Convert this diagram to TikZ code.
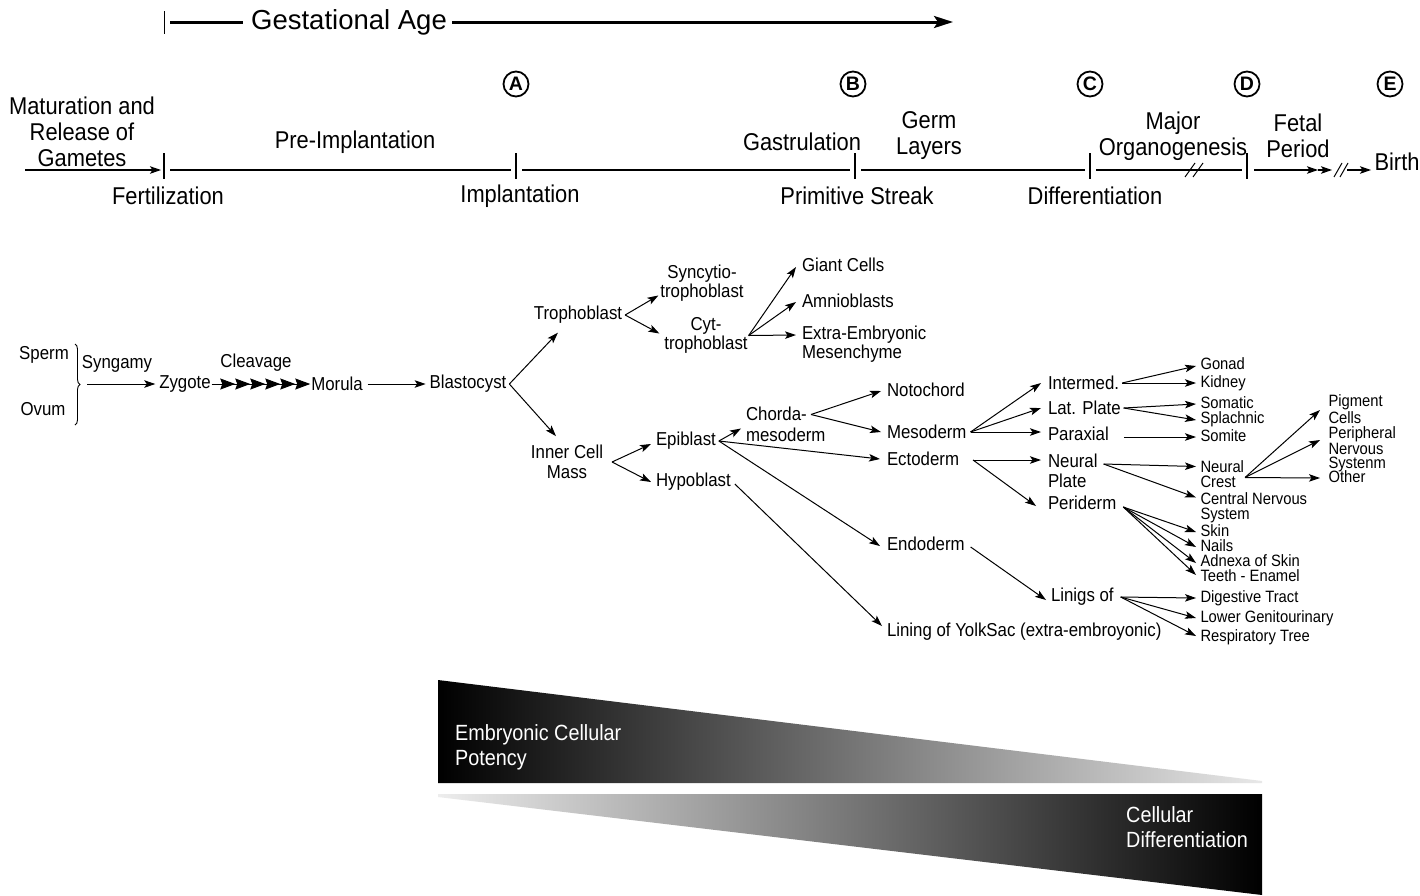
\documentclass[tikz,border=0pt]{standalone}
\usepackage{fontspec}
\setmainfont{Liberation Sans}[FakeStretch=0.9]
\newfontfamily\widefont{Liberation Sans}
\usetikzlibrary{arrows.meta,calc,decorations.pathreplacing}
\begin{document}
\begin{tikzpicture}[x=1pt,y=-1pt,
  tl/.style={font=\fontsize{24.3}{26}\selectfont, inner sep=0pt, align=center},
  tr/.style={font=\fontsize{18.7}{20}\selectfont, inner sep=1pt, outer sep=0pt, align=left},
  ts/.style={font=\fontsize{16.4}{14.5}\selectfont, inner sep=0.5pt, outer sep=0pt, align=left},
  tsone/.style={ts, text height=11pt, text depth=2.5pt},
  conn/.style={line width=1pt, -{Stealth[length=11pt,width=7.5pt,inset=2.5pt]}},
  tickline/.style={line width=1.2pt},
  circ/.style={circle, draw, line width=1.8pt, inner sep=0pt, minimum size=25pt, font=\widefont\fontsize{19.5}{19.5}\selectfont\bfseries},
  wtxt/.style={text=white, font=\fontsize{22}{25}\selectfont, align=left, anchor=west, inner sep=0pt},
  tlarrow/.style={tickline, -{Stealth[length=11pt,width=7.5pt,inset=2.5pt]}},
  chaintip/.tip={Stealth[length=15pt,width=11pt,inset=2pt,sep=0pt]}
]
\useasboundingbox (0,0) rectangle (1420,895);
\fill[white] (0,0) rectangle (1420,895);

% ---------- Gestational age ----------
\draw[line width=1pt] (164,11) -- (164,34);
\node[font=\widefont\fontsize{27.5}{27.5}\selectfont, inner sep=0pt] (ga) at (349,22) {Gestational Age};
\coordinate (g0) at (170,22);
\coordinate (gend) at (953,22);
\draw[line width=3pt] (g0) -- ($(ga.west)+(-8,0)$);
\draw[line width=3pt, -{Stealth[length=19pt,width=12pt,inset=4pt]}] ($(ga.east)+(5,0)$) -- (gend);

% ---------- circled letters ----------
\node[circ] (cA) at (516,84) {A};
\node[circ] (cB) at (853,84) {B};
\node[circ] (cC) at (1090,84) {C};
\node[circ] (cD) at (1247,84) {D};
\node[circ] (cE) at (1390,84) {E};

% ---------- timeline ----------
\coordinate (l0) at (25,170);
\coordinate (tA) at (164,170);
\coordinate (tB) at (516,170);
\coordinate (tC) at (855,170);
\coordinate (tD) at (1090,170);
\coordinate (tE) at (1247,170);
\foreach \t in {tA,tB,tC,tD,tE}
  \draw[tickline] ($(\t)+(0,-17)$) -- ($(\t)+(0,9)$);
\draw[tlarrow] (l0) -- ($(tA)+(-3,0)$);
\draw[tickline] ($(tA)+(6,0)$) -- ($(tB)+(-5,0)$);
\draw[tickline] ($(tB)+(6,0)$) -- ($(tC)+(-5,0)$);
\draw[tickline] ($(tC)+(6,0)$) -- ($(tD)+(-5,0)$);
\draw[tickline] ($(tD)+(6,0)$) -- ($(tE)+(-5,0)$);
\draw[line width=1pt] (1185,177) -- (1195,163);
\draw[line width=1pt] (1193,177) -- (1203,163);
\coordinate (b0) at (1318,170);
\coordinate (b1) at (1332,170);
\coordinate (b2) at (1347,170);
\coordinate (b3) at (1371,170);
\draw[tlarrow] ($(tE)+(7,0)$) -- (b0);
\draw[tlarrow] (b0) -- (b1);
\draw[line width=1pt] (1334,177) -- (1342,163);
\draw[line width=1pt] (1340,177) -- (1348,163);
\draw[tlarrow] (b2) -- (b3);

\node[tl] (mat) at (82,132) {Maturation and\\Release of\\Gametes};
\node[tl] (fert) at (168,196) {Fertilization};
\node[tl] (pre) at (355,142) {Pre-Implantation};
\node[tl] (impl) at (520,196) {Implantation};
\node[tl] (gast) at (802,142) {Gastrulation};
\node[tl] (germ) at (929,136) {Germ\\Layers};
\node[tl] (prim) at (857,196) {Primitive Streak};
\node[tl] (diff) at (1095,196) {Differentiation};
\node[tl] (major) at (1173,136) {Major\\Organogenesis};
\node[tl] (fetal) at (1298,136) {Fetal\\Period};
\node[tl] (birth) at (1397,162) {Birth};

% ---------- tree nodes ----------
\node[tr] (sperm) at (44,355) {Sperm};
\node[tr] (ovum) at (43,409) {Ovum};
\draw[line width=0.9pt, decorate, decoration={brace,amplitude=5pt}] (75,344) -- (75,425);
\coordinate (bt) at (87,384);
\node[tr] (syng) at (117,364) {Syngamy};
\node[tr] (zyg) at (185,384) {Zygote};
\node[tr] (cleav) at (256,363) {Cleavage};
\node[tr] (mor) at (337,384) {Morula};
\node[tr] (bla) at (468,384) {Blastocyst};
\node[tr] (tro) at (578,315) {Trophoblast};
\node[tr, align=center] (icm) at (567,462) {Inner Cell\\Mass};
\node[tr, align=center, font=\fontsize{18.7}{19}\selectfont] (syn) at (702,283.5) {Syncytio-\\trophoblast};
\node[tr, align=center, font=\fontsize{18.7}{19}\selectfont] (cyt) at (706,335.5) {Cyt-\\trophoblast};
\node[tr, anchor=west] (giant) at (801,265) {Giant Cells};
\node[tr, anchor=west] (amnio) at (801,301) {Amnioblasts};
\node[tr, anchor=west, font=\fontsize{18.7}{19}\selectfont] (extra) at (801,344.5) {Extra-Embryonic\\Mesenchyme};
\node[tr, anchor=west] (epi) at (655,441) {Epiblast};
\node[tr, anchor=west] (hypo) at (655,482) {Hypoblast};
\node[tr, anchor=west, font=\fontsize{18.7}{21}\selectfont] (chorda) at (745,424.5) {Chorda-\\mesoderm};
\node[tr, anchor=west] (noto) at (886,390) {Notochord};
\node[tr, anchor=west] (meso) at (886,432) {Mesoderm};
\node[tr, anchor=west] (ecto) at (886,459) {Ectoderm};
\node[tr, anchor=west] (endo) at (886,544) {Endoderm};
\node[tr, anchor=west] (lining) at (886,632) {Lining of YolkSac (extra-embroyonic)};
\node[tr, anchor=west] (inter) at (1047,383) {Intermed.};
\node[tr, anchor=west] (lat) at (1047,408) {Lat. Plate};
\node[tr, anchor=west] (parax) at (1047,434) {Paraxial};
\node[tr, anchor=west] (neural) at (1047,471) {Neural\\Plate};
\node[tr, anchor=west] (peri) at (1047,503) {Periderm};
\node[tr, anchor=west] (linigs) at (1050,597) {Linigs of};
\node[tsone, anchor=west] (gonad) at (1200,365) {Gonad};
\node[tsone, anchor=west] (kidney) at (1200,383) {Kidney};
\node[tsone, anchor=west] (somatic) at (1200,404) {Somatic};
\node[tsone, anchor=west] (splach) at (1200,419) {Splachnic};
\node[tsone, anchor=west] (somite) at (1200,437) {Somite};
\node[ts, anchor=west, font=\fontsize{16.4}{15}\selectfont] (ncrest) at (1200,474.5) {Neural\\Crest};
\node[ts, anchor=west, font=\fontsize{16.4}{15}\selectfont] (cns) at (1200,507.5) {Central Nervous\\System};
\node[tsone, anchor=west] (skin) at (1200,532) {Skin};
\node[tsone, anchor=west] (nails) at (1200,547) {Nails};
\node[tsone, anchor=west] (adnexa) at (1200,562) {Adnexa of Skin};
\node[tsone, anchor=west] (teeth) at (1200,577) {Teeth - Enamel};
\node[ts, anchor=west, font=\fontsize{16.4}{14}\selectfont] (pigment) at (1328,409) {Pigment\\Cells};
\node[ts, anchor=west, font=\fontsize{16.4}{14}\selectfont] (pns) at (1328,449) {Peripheral\\Nervous\\Systenm};
\node[tsone, anchor=west] (other) at (1328,478) {Other};
\node[tsone, anchor=west] (digest) at (1200,598) {Digestive Tract};
\node[tsone, anchor=west] (lower) at (1200,618) {Lower Genitourinary};
\node[tsone, anchor=west] (resp) at (1200,637) {Respiratory Tree};

% ---------- tree connectors ----------
\draw[conn] (bt) -- ($(zyg.west)+(-3,0)$);
\draw[line width=1pt, -{chaintip[] chaintip[] chaintip[] chaintip[] chaintip[] chaintip[]}] (zyg.east) -- (mor.west);
\draw[conn] ($(mor.east)+(4,0)$) -- ($(bla.west)+(-3,0)$);
\draw[conn] ($(bla.east)+(2,0)$) -- ($(tro.south west)+(25,8)$);
\draw[conn] ($(bla.east)+(2,0)$) -- ($(icm.north west)+(26,-8)$);
\draw[conn] ($(tro.east)+(2,0)$) -- ($(syn.west)+(-1,12)$);
\draw[conn] ($(tro.east)+(2,0)$) -- ($(cyt.west)+(-4,-2)$);
\draw[conn] (cyt.east) -- ($(giant.west)+(-5,2)$);
\draw[conn] (cyt.east) -- ($(amnio.west)+(-5,1)$);
\draw[conn] (cyt.east) -- ($(extra.west)+(-5,-9.5)$);
\draw[conn] ($(icm.east)+(8,0)$) -- ($(epi.west)+(-4,3)$);
\draw[conn] ($(icm.east)+(8,0)$) -- ($(hypo.west)+(-4,0)$);
\draw[conn] ($(epi.east)+(2,0)$) -- ($(chorda.west)+(-4,4)$);
\draw[conn] ($(epi.east)+(2,0)$) -- ($(ecto.west)+(-6,0)$);
\draw[conn] ($(epi.east)+(2,0)$) -- ($(endo.west)+(-6,2)$);
\draw[conn] ($(chorda.west)+(66,-10)$) -- ($(noto.west)+(-5,1)$);
\draw[conn] ($(chorda.west)+(66,-10)$) -- ($(meso.west)+(-5,0)$);
\draw[conn] ($(hypo.east)+(3,2)$) -- ($(lining.west)+(-4,-6)$);
\draw[conn] ($(meso.east)+(3,0)$) -- ($(inter.west)+(-6,0)$);
\draw[conn] ($(meso.east)+(3,0)$) -- ($(lat.west)+(-6,0)$);
\draw[conn] ($(meso.east)+(3,0)$) -- ($(parax.west)+(-6,-2)$);
\draw[conn] ($(inter.east)+(2,0)$) -- ($(gonad.west)+(-4,1)$);
\draw[conn] ($(inter.east)+(2,0)$) -- ($(kidney.west)+(-4,0)$);
\draw[conn] ($(lat.east)+(2,0)$) -- ($(somatic.west)+(-4,0)$);
\draw[conn] ($(lat.east)+(2,0)$) -- ($(splach.west)+(-4,1)$);
\draw[conn] ($(parax.east)+(14,3)$) -- ($(somite.west)+(-4,0)$);
\draw[conn] ($(ecto.east)+(13,1)$) -- ($(neural.west)+(-6,-11)$);
\draw[conn] ($(ecto.east)+(13,1)$) -- ($(peri.west)+(-11,3)$);
\draw[conn] ($(neural.east)+(5,-7)$) -- ($(ncrest.west)+(-4,-8)$);
\draw[conn] ($(neural.east)+(5,-7)$) -- ($(cns.west)+(-4,-10)$);
\draw[conn] ($(ncrest.west)+(45,3)$) -- ($(pigment.west)+(-8,1)$);
\draw[conn] ($(ncrest.west)+(45,3)$) -- ($(pns.west)+(-8,-9)$);
\draw[conn] ($(ncrest.west)+(45,3)$) -- ($(other.west)+(-8,0)$);
\draw[conn] ($(peri.east)+(6,4)$) -- ($(skin.west)+(-4,0)$);
\draw[conn] ($(peri.east)+(6,4)$) -- ($(nails.west)+(-4,0)$);
\draw[conn] ($(peri.east)+(6,4)$) -- ($(adnexa.west)+(-4,1)$);
\draw[conn] ($(peri.east)+(6,4)$) -- ($(teeth.west)+(-4,-2)$);
\draw[conn] ($(endo.east)+(5,3)$) -- ($(linigs.west)+(-4,3)$);
\draw[conn] ($(linigs.east)+(6,0)$) -- ($(digest.west)+(-4,0)$);
\draw[conn] ($(linigs.east)+(6,0)$) -- ($(lower.west)+(-4,0)$);
\draw[conn] ($(linigs.east)+(6,0)$) -- ($(resp.west)+(-4,-1)$);

% ---------- gradient wedges ----------
\shade[left color=black, right color=black!9] (438,680) -- (1262,781) -- (1262,783) -- (438,783) -- cycle;
\shade[left color=black!7, right color=black] (438,794) -- (1262,794) -- (1262,895) -- (438,797) -- cycle;
\node[wtxt] (pot) at (455,747.5) {Embryonic Cellular\\Potency};
\node[wtxt] (cdiff) at (1126,827) {Cellular\\Differentiation};
\end{tikzpicture}
\end{document}
